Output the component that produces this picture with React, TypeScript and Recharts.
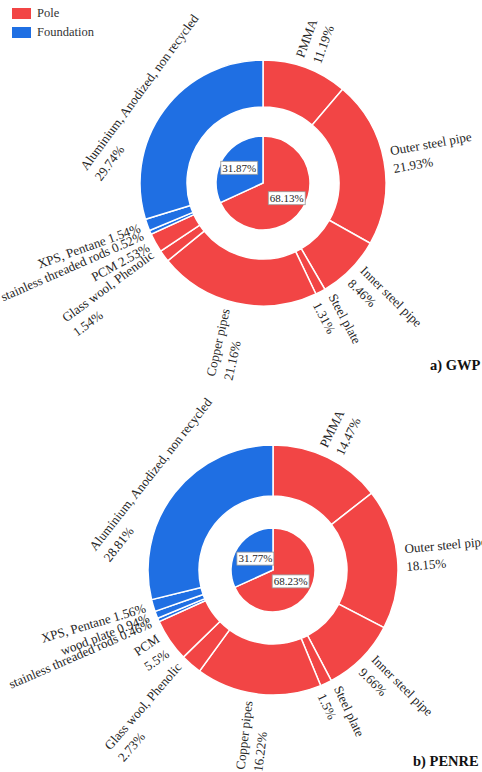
import React from 'react';
import { PieChart, Pie, Cell } from 'recharts';

// ---------- data ----------
const GROUPS = ['Pole', 'Foundation'];
const GROUP_COLORS: Record<string, string> = { Pole: '#F24545', Foundation: '#1F6FE3' };

const GWP_GROUP_VALUES = [68.13, 31.87];
const GWP_COMPONENTS = [
  'PMMA',
  'Outer steel pipe',
  'Inner steel pipe',
  'Steel plate',
  'Copper pipes',
  'Glass wool, Phenolic',
  'PCM',
  'stainless threaded rods',
  'XPS, Pentane',
  'Aluminium, Anodized, non recycled',
];
const GWP_COMPONENT_VALUES = [11.19, 21.93, 8.46, 1.31, 21.16, 1.54, 2.53, 0.52, 1.54, 29.74];
const GWP_COMPONENT_GROUPS = ['Pole', 'Pole', 'Pole', 'Pole', 'Pole', 'Pole', 'Pole', 'Foundation', 'Foundation', 'Foundation'];

const PENRE_GROUP_VALUES = [68.23, 31.77];
const PENRE_COMPONENTS = [
  'PMMA',
  'Outer steel pipe',
  'Inner steel pipe',
  'Steel plate',
  'Copper pipes',
  'Glass wool, Phenolic',
  'PCM',
  'stainless threaded rods',
  'wood plate',
  'XPS, Pentane',
  'Aluminium, Anodized, non recycled',
];
const PENRE_COMPONENT_VALUES = [14.47, 18.15, 9.66, 1.5, 16.22, 2.73, 5.5, 0.46, 0.94, 1.56, 28.81];
const PENRE_COMPONENT_GROUPS = ['Pole', 'Pole', 'Pole', 'Pole', 'Pole', 'Pole', 'Pole', 'Foundation', 'Foundation', 'Foundation', 'Foundation'];

const TITLES = ['a) GWP', 'b) PENRE'];

// ---------- label layout config ----------
const INLINE_GWP = new Set(['PCM', 'stainless threaded rods', 'XPS, Pentane']);
const INLINE_PENRE = new Set(['stainless threaded rods', 'wood plate', 'XPS, Pentane']);
const TANGENTIAL = new Set(['Aluminium, Anodized, non recycled']);

const SERIF = '"Liberation Serif", "Times New Roman", serif';
const FONT_SIZE = 13;
const LINE = 18;
const GAP = 8;
const CAP = 8.6;

let ctx: CanvasRenderingContext2D | null = null;
function measure(text: string, font: string): number {
  if (!ctx && typeof document !== 'undefined') {
    const c = document.createElement('canvas');
    ctx = c.getContext('2d');
  }
  if (!ctx) return text.length * 6;
  ctx.font = font;
  return ctx.measureText(text).width;
}

const deg = (r: number) => (r * 180) / Math.PI;

function renderOuterLabel(props: any, inline: Set<string>) {
  const { cx, cy, midAngle, outerRadius } = props;
  const name: string = props.payload?.name ?? props.name;
  const value: number = props.payload?.value ?? props.value;
  const pct = `${value}%`;
  const lines = inline.has(name) ? [`${name} ${pct}`] : [name, pct];
  const n = lines.length;
  const font = `${FONT_SIZE}px ${SERIF}`;
  const W = Math.max(...lines.map((l) => measure(l, font)));
  const rad = (midAngle * Math.PI) / 180;
  const ux = Math.cos(rad);
  const uy = -Math.sin(rad);
  let ox: number, oy: number, angle: number, xStart: number, baselines: number[];
  if (TANGENTIAL.has(name)) {
    const rho = outerRadius + GAP + (n - 1) * LINE;
    ox = cx + rho * ux;
    oy = cy + rho * uy;
    angle = deg(Math.atan2(ux, -uy));
    xStart = -W / 2;
    baselines = lines.map((_, i) => i * LINE);
  } else {
    const rho = outerRadius + GAP;
    ox = cx + rho * ux;
    oy = cy + rho * uy;
    const right = ux >= 0;
    angle = right ? deg(Math.atan2(uy, ux)) : deg(Math.atan2(-uy, -ux));
    xStart = right ? 0 : -W;
    const y0 = (-(n - 1) * LINE) / 2 + CAP / 2;
    baselines = lines.map((_, i) => y0 + i * LINE);
  }
  return (
    <text
      key={`lbl-${name}`}
      transform={`translate(${ox},${oy}) rotate(${angle})`}
      fontFamily={SERIF}
      fontSize={FONT_SIZE}
      fill="#262626"
      textAnchor="start"
    >
      {lines.map((l, i) => (
        <tspan key={i} x={xStart} y={baselines[i]}>
          {l}
        </tspan>
      ))}
    </text>
  );
}

function renderInnerLabel(props: any, dist: number) {
  const { cx, cy, midAngle, outerRadius } = props;
  const value: number = props.payload?.value ?? props.value;
  const text = `${value}%`;
  const rad = (midAngle * Math.PI) / 180;
  const r = outerRadius * dist;
  const x = cx + r * Math.cos(rad);
  const y = cy - r * Math.sin(rad);
  const fs = 11;
  const w = measure(text, `${fs}px ${SERIF}`) + 3;
  const h = 13;
  return (
    <g key={`in-${text}`}>
      <rect x={x - w / 2} y={y - h / 2} width={w} height={h} fill="#fff" stroke="#9a9a9a" strokeWidth={0.8} />
      <text x={x} y={y + 3.8} textAnchor="middle" fontFamily={SERIF} fontSize={fs} fill="#262626">
        {text}
      </text>
    </g>
  );
}

const gwpGroupData = GROUPS.map((g, i) => ({ name: g, value: GWP_GROUP_VALUES[i] }));
const gwpCompData = GWP_COMPONENTS.map((c, i) => ({ name: c, value: GWP_COMPONENT_VALUES[i], group: GWP_COMPONENT_GROUPS[i] }));
const penreGroupData = GROUPS.map((g, i) => ({ name: g, value: PENRE_GROUP_VALUES[i] }));
const penreCompData = PENRE_COMPONENTS.map((c, i) => ({ name: c, value: PENRE_COMPONENT_VALUES[i], group: PENRE_COMPONENT_GROUPS[i] }));

export default function App() {
  return (
    <div style={{ position: 'absolute', left: 0, top: 0, width: 482, height: 772, background: '#fff', overflow: 'hidden' }}>
      <PieChart width={482} height={772} margin={{ top: 0, right: 0, bottom: 0, left: 0 }} style={{ position: 'absolute', left: 0, top: 0 }}>
        <Pie
          data={gwpGroupData}
          dataKey="value"
          nameKey="name"
          cx={263}
          cy={183}
          innerRadius={0}
          outerRadius={47}
          startAngle={90}
          endAngle={-270}
          stroke="#fff"
          strokeWidth={1.5}
          isAnimationActive={false}
          labelLine={false}
          label={(p: any) => renderInnerLabel(p, 0.6)}
        >
          {gwpGroupData.map((d) => (
            <Cell key={d.name} fill={GROUP_COLORS[d.name]} />
          ))}
        </Pie>
        <Pie
          data={gwpCompData}
          dataKey="value"
          nameKey="name"
          cx={263}
          cy={183}
          innerRadius={76}
          outerRadius={123}
          startAngle={90}
          endAngle={-270}
          stroke="#fff"
          strokeWidth={1.5}
          isAnimationActive={false}
          labelLine={false}
          label={(p: any) => renderOuterLabel(p, INLINE_GWP)}
        >
          {gwpCompData.map((d) => (
            <Cell key={d.name} fill={GROUP_COLORS[d.group]} />
          ))}
        </Pie>
        <Pie
          data={penreGroupData}
          dataKey="value"
          nameKey="name"
          cx={273}
          cy={570}
          innerRadius={0}
          outerRadius={42}
          startAngle={90}
          endAngle={-270}
          stroke="#fff"
          strokeWidth={1.5}
          isAnimationActive={false}
          labelLine={false}
          label={(p: any) => renderInnerLabel(p, 0.5)}
        >
          {penreGroupData.map((d) => (
            <Cell key={d.name} fill={GROUP_COLORS[d.name]} />
          ))}
        </Pie>
        <Pie
          data={penreCompData}
          dataKey="value"
          nameKey="name"
          cx={273}
          cy={570}
          innerRadius={74}
          outerRadius={125}
          startAngle={90}
          endAngle={-270}
          stroke="#fff"
          strokeWidth={1.5}
          isAnimationActive={false}
          labelLine={false}
          label={(p: any) => renderOuterLabel(p, INLINE_PENRE)}
        >
          {penreCompData.map((d) => (
            <Cell key={d.name} fill={GROUP_COLORS[d.group]} />
          ))}
        </Pie>
      </PieChart>

      {/* legend */}
      {GROUPS.map((g, i) => (
        <div key={g} style={{ position: 'absolute', left: 12, top: 8 + i * 18.5, height: 11, display: 'flex', alignItems: 'center' }}>
          <div style={{ width: 19, height: 11, background: GROUP_COLORS[g] }} />
          <span style={{ marginLeft: 6, fontFamily: SERIF, fontSize: 12.5, color: '#333', lineHeight: '11px' }}>{g}</span>
        </div>
      ))}

      {/* titles */}
      <div style={{ position: 'absolute', left: 430, top: 357, fontFamily: SERIF, fontWeight: 'bold', fontSize: 14.5, lineHeight: '17px', color: '#111', whiteSpace: 'nowrap' }}>
        {TITLES[0]}
      </div>
      <div style={{ position: 'absolute', left: 413, top: 753, fontFamily: SERIF, fontWeight: 'bold', fontSize: 14.5, lineHeight: '17px', color: '#111', whiteSpace: 'nowrap' }}>
        {TITLES[1]}
      </div>
    </div>
  );
}
